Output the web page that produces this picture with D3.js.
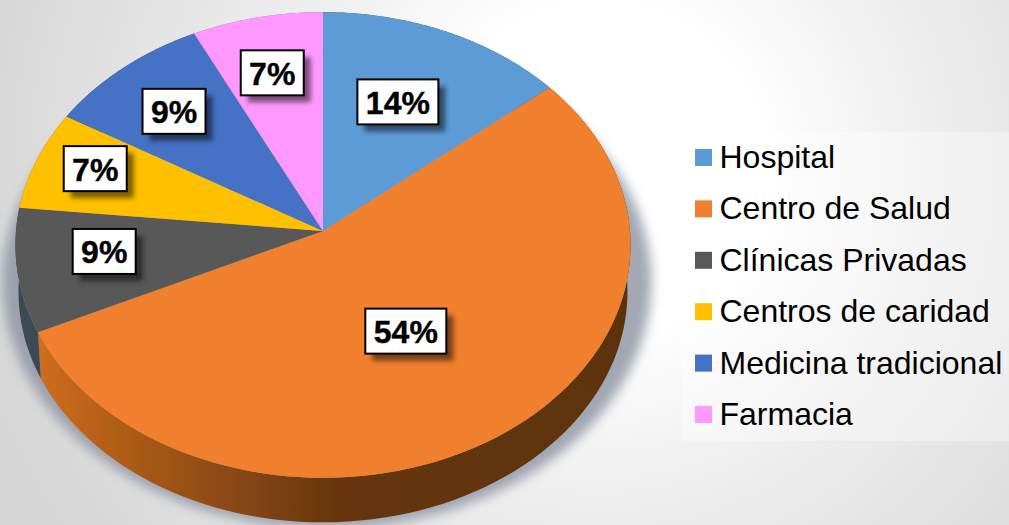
<!DOCTYPE html>
<html><head><meta charset="utf-8">
<script src="https://cdn.jsdelivr.net/npm/d3@7"></script>
<style>html,body{margin:0;padding:0;background:#fff;overflow:hidden}svg{display:block}text{font-family:"Liberation Sans",Arial,sans-serif}</style>
</head><body><svg id="c" width="1009" height="525"></svg>
<script>
const categories = ["Hospital","Centro de Salud","Clínicas Privadas","Centros de caridad","Medicina tradicional","Farmacia"];
const values = [13.9,54.1,8.6,6.9,9.2,7.3];
const colors = ["#5B9BD5","#F07F2F","#595959","#FFC000","#4472C4","#FF99FF"];
const labelNudges = [[-3,-3],[-23,-25],[-30,-4],[-49,-18],[-23,-17],[-9,-23]];

const W=1009,H=525, cx=323, cy=231, a=307, b=232, k=0.06;
const depthY=47, wallScale=0.99;
const svg=d3.select("#c");
const defs=svg.append("defs");

const bg=defs.append("radialGradient").attr("id","bg").attr("gradientUnits","userSpaceOnUse")
  .attr("cx",600).attr("cy",170).attr("r",640);
[[0,"#ffffff"],[0.25,"#ffffff"],[0.5,"#efefef"],[0.72,"#e4e4e4"],[1,"#d6d6d6"]]
  .forEach(s=>bg.append("stop").attr("offset",s[0]).attr("stop-color",s[1]));
svg.append("rect").attr("width",W).attr("height",H).attr("fill","url(#bg)");

const softF=defs.append("filter").attr("id","soft").attr("filterUnits","userSpaceOnUse")
  .attr("x",-60).attr("y",-60).attr("width",W).attr("height",H+200);
softF.append("feGaussianBlur").attr("stdDeviation",6);
defs.append("filter").attr("id","labelSoft").attr("x","-30%").attr("y","-30%").attr("width","160%").attr("height","160%")
  .append("feGaussianBlur").attr("stdDeviation",2.5);
defs.append("filter").attr("id","tiny").attr("x","-2%").attr("y","-2%").attr("width","104%").attr("height","104%")
  .append("feGaussianBlur").attr("stdDeviation",0.7);

const wg=defs.append("linearGradient").attr("id","wallOrange").attr("gradientUnits","userSpaceOnUse")
  .attr("x1",38).attr("x2",630).attr("y1",0).attr("y2",0);
[[0,"#cf6d20"],[0.12,"#b45f18"],[0.3,"#8f4b14"],[0.5,"#673610"],[1,"#5c3310"]]
  .forEach(s=>wg.append("stop").attr("offset",s[0]).attr("stop-color",s[1]));

// perspective projection of a unit-disc point at clockwise angle t from the top
const proj=(t,r=1)=>{const u=r*Math.sin(t),v=-r*Math.cos(t),d=1-k*v;return [cx+a*u/d,cy+b*v/d];};
const projLow=(t)=>{const p=proj(t);return [cx+(p[0]-cx)*wallScale,cy+(p[1]-cy)*wallScale+depthY];};
const samples=(s,e)=>d3.range(0,1.0001,1/90).map(f=>s+(e-s)*f);
const line=d3.line();

const arcs=d3.pie().sort(null).value(d=>d)(values);

// soft shadow around the pie
const ring=d3.range(0,2*Math.PI,0.03);
const closed=d3.line().curve(d3.curveLinearClosed);
svg.append("g").attr("filter","url(#soft)").append("path")
  .attr("d",closed(ring.map(t=>{const p=proj(t);return [cx+(p[0]-cx)*1.055+4,cy+(p[1]-cy)*1.06+36];})))
  .attr("fill","#8b91a0").attr("opacity",0.8);

const pie=svg.append("g").attr("filter","url(#tiny)");

// side walls
pie.selectAll("path.wall").data(arcs).join("path").attr("class","wall")
  .attr("d",d=>{const ts=samples(d.startAngle,d.endAngle);
    return line(ts.map(t=>proj(t)).concat(ts.slice().reverse().map(projLow)))+"Z";})
  .attr("fill",(d,i)=>i===1?"url(#wallOrange)":i===2?"#3e4a52":d3.color(colors[i]).darker(1.5));

// top faces
pie.selectAll("path.face").data(arcs).join("path").attr("class","face")
  .attr("d",d=>line([[cx,cy]].concat(samples(d.startAngle,d.endAngle).map(t=>proj(t))))+"Z")
  .attr("fill",(d,i)=>colors[i]);

// data labels
const fmt=v=>d3.format(".0f")(v)+"%";
const boxW=v=>fmt(v).length>2?81:63, boxH=45;
const lab=svg.append("g").selectAll("g").data(arcs).join("g")
  .attr("transform",(d,i)=>{const p=proj((d.startAngle+d.endAngle)/2,0.62);
    return `translate(${p[0]+labelNudges[i][0]} ${p[1]+labelNudges[i][1]})`;});
lab.append("rect").attr("x",d=>-boxW(d.data)/2+7).attr("y",-boxH/2+7).attr("width",d=>boxW(d.data)).attr("height",boxH)
  .attr("fill","#000").attr("opacity",0.5).attr("filter","url(#labelSoft)");
lab.append("rect").attr("x",d=>-boxW(d.data)/2).attr("y",-boxH/2).attr("width",d=>boxW(d.data)).attr("height",boxH)
  .attr("fill","#fff").attr("stroke","#000").attr("stroke-width",2);
lab.append("text").attr("text-anchor","middle").attr("y",12).attr("font-size",32).attr("font-weight",700)
  .attr("fill","#000").attr("stroke","#000").attr("stroke-width",0.4).text(d=>fmt(d.data));

// legend
svg.append("rect").attr("x",682).attr("y",132).attr("width",327).attr("height",309).attr("fill","#fff").attr("opacity",0.35);
const y=d3.scalePoint().domain(categories).range([157.5,414.5]);
const leg=svg.append("g").selectAll("g").data(categories).join("g").attr("transform",d=>`translate(695 ${y(d)})`);
leg.append("rect").attr("y",-8.5).attr("width",17).attr("height",17).attr("fill",(d,i)=>colors[i]);
leg.append("text").attr("x",24.5).attr("y",10.5).attr("font-size",32).attr("fill","#000").text(d=>d);
</script></body></html>
